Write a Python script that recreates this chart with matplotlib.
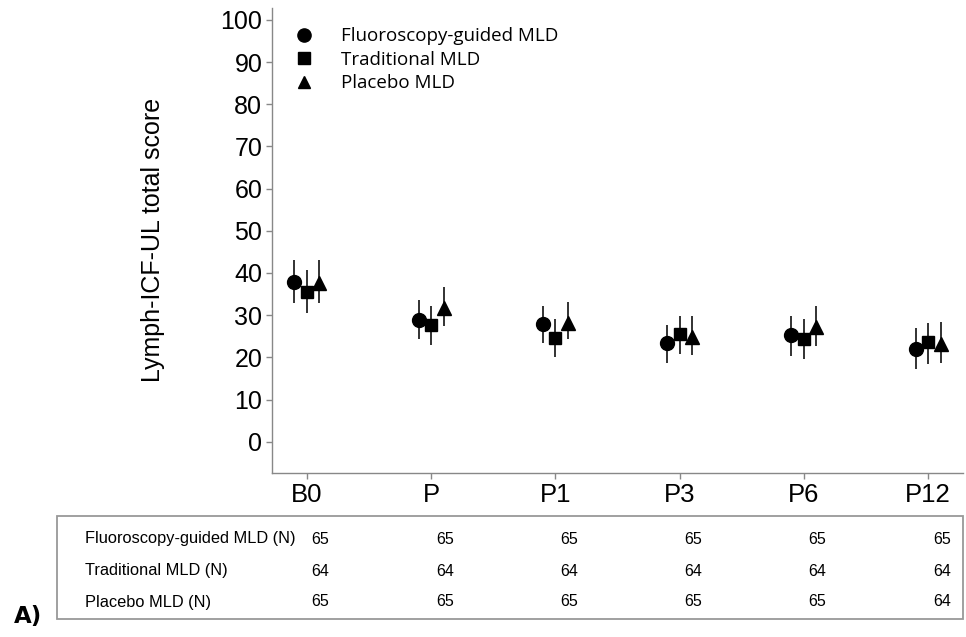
import matplotlib.pyplot as plt
import matplotlib.transforms as mtransforms
from matplotlib.patches import Rectangle

timepoints = ['B0', 'P', 'P1', 'P3', 'P6', 'P12']
groups = ['Fluoroscopy-guided MLD', 'Traditional MLD', 'Placebo MLD']
markers = ['o', 's', '^']

fluoro_mean = [37.9, 28.8, 27.8, 23.3, 25.3, 22.0]
fluoro_lo = [32.8, 24.3, 23.3, 18.7, 20.4, 17.2]
fluoro_hi = [43.0, 33.6, 32.2, 27.7, 29.8, 26.9]

trad_mean = [35.4, 27.6, 24.5, 25.5, 24.4, 23.7]
trad_lo = [30.6, 22.9, 20.0, 20.7, 19.6, 18.4]
trad_hi = [40.7, 32.2, 29.0, 29.8, 29.2, 28.2]

placebo_mean = [37.7, 31.6, 28.2, 24.9, 27.3, 23.1]
placebo_lo = [33.0, 27.4, 24.3, 20.5, 22.7, 18.6]
placebo_hi = [43.0, 36.6, 33.2, 29.8, 32.2, 28.4]

n_fluoro = [65, 65, 65, 65, 65, 65]
n_trad = [64, 64, 64, 64, 64, 64]
n_placebo = [65, 65, 65, 65, 65, 64]
table_labels = ['Fluoroscopy-guided MLD (N)', 'Traditional MLD (N)', 'Placebo MLD (N)']

fig = plt.figure(figsize=(9.66, 6.37), dpi=100)
W, H = 966, 637
ax = fig.add_axes([272 / W, 1 - 473 / H, (963 - 272) / W, (473 - 8) / H])

means = [fluoro_mean, trad_mean, placebo_mean]
los = [fluoro_lo, trad_lo, placebo_lo]
his = [fluoro_hi, trad_hi, placebo_hi]
offsets = [-0.1, 0.0, 0.1]
sizes = [10, 9, 9.5]

x = list(range(len(timepoints)))
handles = []
for i in range(3):
    xs = [v + offsets[i] for v in x]
    yerr = [[m - l for m, l in zip(means[i], los[i])],
            [h - m for m, h in zip(means[i], his[i])]]
    ax.errorbar(xs, means[i], yerr=yerr, fmt='none', ecolor='#222222',
                elinewidth=1.3, capsize=0, zorder=2)
    h, = ax.plot(xs, means[i], linestyle='none', marker=markers[i],
                 markersize=sizes[i], color='black', zorder=3)
    handles.append(h)

ax.set_xlim(-0.28, 5.28)
ax.set_ylim(-7.4, 102.8)
ax.set_yticks(range(0, 101, 10))
ax.set_xticks(x)
ax.set_xticklabels(timepoints)
for s in ['top', 'right']:
    ax.spines[s].set_visible(False)
for s in ['left', 'bottom']:
    ax.spines[s].set_color('#888888')
    ax.spines[s].set_linewidth(1.0)
ax.tick_params(colors='#888888', labelcolor='black', length=4, width=1)
ax.tick_params(axis='y', labelsize=18, pad=3)
ax.tick_params(axis='x', labelsize=18.5, pad=3)
for lab in ax.get_xticklabels() + ax.get_yticklabels():
    lab.set_fontfamily('Liberation Sans')

fig.text(153 / W, 1 - 240 / H, 'Lymph-ICF-UL total score', rotation=90,
         ha='center', va='center', fontsize=18, family='Liberation Sans')

ax.legend(handles, groups, loc='upper left', bbox_to_anchor=(0.0, 0.995),
          frameon=False, handletextpad=1.2, labelspacing=0.3,
          borderaxespad=0.5, markerscale=0.95, handlelength=1.6,
          prop={'family': 'Open Sans', 'size': 13.5})

# table of N below the plot
fig.patches.append(Rectangle((57 / W, 1 - 619 / H), (963 - 57) / W, (619 - 516) / H,
                             transform=fig.transFigure, fill=False,
                             edgecolor='#999999', linewidth=1.3))
trans = mtransforms.blended_transform_factory(ax.transData, fig.transFigure)
rows_y = [539, 571, 602]
counts = [n_fluoro, n_trad, n_placebo]
for r in range(3):
    yf = 1 - rows_y[r] / H
    fig.text(85 / W, yf, table_labels[r], ha='left', va='center',
             fontsize=11.8, family='Liberation Sans')
    for j, n in enumerate(counts[r]):
        fig.text(x[j] + 0.11, yf, str(n), ha='center', va='center',
                 fontsize=11.5, family='Liberation Sans', transform=trans)

fig.text(14 / W, 1 - 616 / H, 'A)', ha='left', va='center', fontsize=16.5,
         fontweight='bold', family='DejaVu Sans')

fig.savefig('out.png', dpi=100)
